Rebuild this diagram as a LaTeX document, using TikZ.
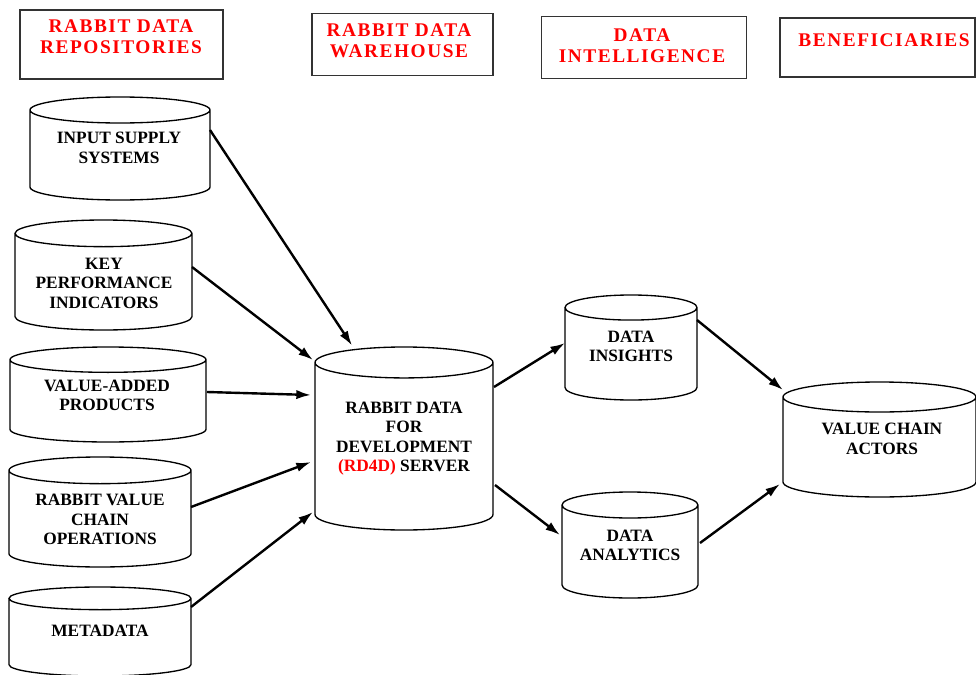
\documentclass[tikz,border=0pt]{standalone}
\usepackage{fontspec}
\setmainfont{Liberation Serif}
\newfontfamily\hdrfont[LetterSpace=8]{Liberation Serif}
\usetikzlibrary{arrows.meta}

\tikzset{
  hdrbox/.style={draw, line width=1.2pt, color=black!80, inner sep=0pt},
  hdrtext/.style={color=red, font=\hdrfont\bfseries\fontsize{14.5}{15.75}\selectfont, align=center},
  db/.style={rectangle, inner sep=0pt, outer sep=0pt},
  dbtext/.style={color=black, font=\bfseries\fontsize{13}{14.6}\selectfont, align=center},
  flow/.style={-{Latex[length=11pt,width=7pt]}, line width=1.8pt}
}

% outline of a drum: node name, x radius, y radius of the ends
\newcommand{\dbcyl}[3]{%
  \draw[line width=1pt] ([yshift=-#3]#1.north west) -- ([yshift=#3]#1.south west)
    arc[start angle=180, end angle=360, x radius=#2, y radius=#3]
    -- ([yshift=-#3]#1.north east)
    arc[start angle=0, end angle=180, x radius=#2, y radius=#3]
    arc[start angle=180, end angle=360, x radius=#2, y radius=#3];
}

\begin{document}
\begin{tikzpicture}[x=0.75pt,y=-0.75pt]
\useasboundingbox (0,0) rectangle (976,675);

\node[hdrbox, minimum width=152.25pt, minimum height=51.75pt] (h-rep) at (121.5,44.5) {};
\node[hdrtext] (h-rep-t) at (121,36.5) {RABBIT DATA\\REPOSITORIES};
\node[hdrbox, minimum width=135.75pt, minimum height=46.5pt] (h-war) at (402.5,44.5) {};
\node[hdrtext] (h-war-t) at (399,41) {RABBIT DATA\\WAREHOUSE};
\node[hdrbox, minimum width=153.75pt, minimum height=46.5pt] (h-int) at (644,47.5) {};
\node[hdrtext] (h-int-t) at (642,46) {DATA\\INTELLIGENCE};
\node[hdrbox, minimum width=146.25pt, minimum height=44.25pt] (h-ben) at (877.5,47.5) {};
\node[hdrtext] (h-ben-t) at (884,40) {BENEFICIARIES};

\node[db, minimum width=135pt, minimum height=77.25pt] (iss) at (120,148.5) {};
\dbcyl{iss}{67.5pt}{9.75pt}
\node[dbtext] (iss-t) at (119,148) {INPUT SUPPLY\\SYSTEMS};
\node[db, minimum width=132.75pt, minimum height=82.5pt] (kpi) at (103.5,275) {};
\dbcyl{kpi}{66.375pt}{10pt}
\node[dbtext] (kpi-t) at (104,283) {KEY\\PERFORMANCE\\INDICATORS};
\node[db, minimum width=147pt, minimum height=71.25pt] (vap) at (108,394.5) {};
\dbcyl{vap}{73.5pt}{9.5pt}
\node[dbtext] (vap-t) at (107,395.5) {VALUE-ADDED\\PRODUCTS};
\node[db, minimum width=136.5pt, minimum height=82.5pt] (ops) at (100,512) {};
\dbcyl{ops}{68.25pt}{10pt}
\node[dbtext] (ops-t) at (100,519.5) {RABBIT VALUE\\CHAIN\\OPERATIONS};
\node[db, minimum width=136.5pt, minimum height=66.75pt] (meta) at (100,631.5) {};
\dbcyl{meta}{68.25pt}{8.5pt}
\node[dbtext] (meta-t) at (100,631) {METADATA};

\node[db, minimum width=133.5pt, minimum height=137.25pt] (srv) at (404,438.5) {};
\dbcyl{srv}{66.75pt}{11.6pt}
\node[dbtext] (srv-t) at (404,438.5) {RABBIT DATA\\FOR\\DEVELOPMENT\\\textcolor{red}{(RD4D)} SERVER};

\node[db, minimum width=99pt, minimum height=78.75pt] (ins) at (631,347.5) {};
\dbcyl{ins}{49.5pt}{9.4pt}
\node[dbtext] (ins-t) at (631,346.5) {DATA\\INSIGHTS};
\node[db, minimum width=102pt, minimum height=79.5pt] (ana) at (630,545) {};
\dbcyl{ana}{51pt}{9.75pt}
\node[dbtext] (ana-t) at (630,545.5) {DATA\\ANALYTICS};

\node[db, minimum width=144.75pt, minimum height=86.25pt] (vca) at (879.5,439.5) {};
\dbcyl{vca}{72.375pt}{11.25pt}
\node[dbtext] (vca-t) at (882,439) {VALUE CHAIN\\ACTORS};

\draw[flow] ([shift={(90,-18.5)}]iss.center) -- ([shift={(-52,-93)}]srv.center);
\draw[flow] ([shift={(88.5,-8)}]kpi.center) -- ([shift={(-91,-78.5)}]srv.center);
\draw[flow] ([shift={(99,-2.5)}]vap.center) -- ([shift={(-93,-43.5)}]srv.center);
\draw[flow] ([shift={(91,-5)}]ops.center) -- ([shift={(-93,23.5)}]srv.center);
\draw[flow] ([shift={(91,-24.5)}]meta.center) -- ([shift={(-91,73.5)}]srv.center);

\draw[flow] ([shift={(90,-51.5)}]srv.center) -- ([shift={(-66,-4.5)}]ins.center);
\draw[flow] ([shift={(91,46.5)}]srv.center) -- ([shift={(-70,-10)}]ana.center);

\draw[flow] ([shift={(66,-27.5)}]ins.center) -- ([shift={(-96.5,-49.5)}]vca.center);
\draw[flow] ([shift={(70,-2)}]ana.center) -- ([shift={(-99.5,44.5)}]vca.center);
\end{tikzpicture}
\end{document}
